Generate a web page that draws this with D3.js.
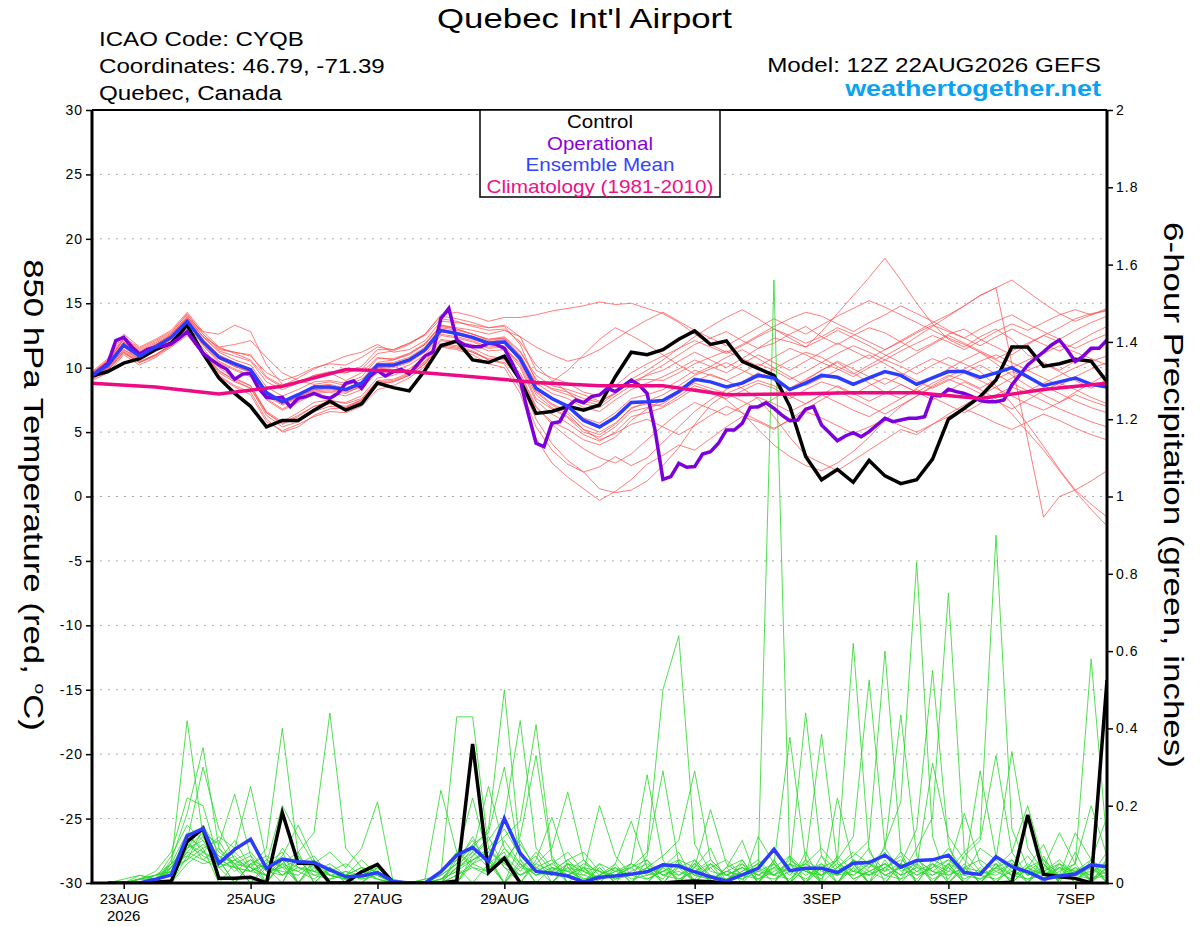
<!DOCTYPE html>
<html>
<head>
<meta charset="utf-8">
<script src="https://cdnjs.cloudflare.com/ajax/libs/d3/7.8.5/d3.min.js"></script>
<style>
  body { margin: 0; background: #fff; }
  svg text { font-family: "Liberation Sans", Arial, sans-serif; }
</style>
</head>
<body>
<div id="chart"></div>
<script>
// ---- data (6-hourly from 22AUG2026 12Z unless noted) ----
const controlTemp = [
  9.35, 9.7, 10.35, 10.7, 11.4,  11.9, 13.3, 11.1, 9.2, 8.0,
  7.0, 5.4, 5.9, 5.9, 6.7,  7.4, 6.7, 7.2, 8.8, 8.45,
  8.2, 9.8, 11.7, 12.07, 10.6,  10.4, 10.9, 9.04, 6.45, 6.6,
  7.0, 6.7, 7.1, 9.3, 11.2,  11.0, 11.4, 12.2, 12.85, 11.8,
  12.07, 10.5, 9.95, 9.4, 7.0,  3.1, 1.3, 2.1, 1.1, 2.8,
  1.6, 1.0, 1.3, 2.9, 6.0,  6.85, 7.75, 9.04, 11.6, 11.6,
  10.1, 10.3, 10.65, 10.5, 8.9
];

// operational run is 3-hourly
const operTemp = [
  9.35, 9.85, 10.34, 12.1, 12.35, 11.63, 11.06, 11.42, 11.6, 11.7,
  11.84, 12.3, 12.79, 11.95, 11.11, 10.65, 10.21, 9.87, 9.1, 9.5,
  9.56, 8.4, 7.7, 7.62, 7.7, 6.97, 7.62, 7.75, 8.0, 7.75,
  7.62, 8.0, 8.78, 8.96, 8.4, 9.3, 9.77, 9.35, 9.69, 9.87,
  9.5, 10.21, 10.9, 11.23, 13.82, 14.6, 12.15, 11.76, 11.63, 11.63,
  11.89, 11.81, 11.5, 10.34, 9.04, 6.46, 4.13, 3.87, 5.68, 5.81,
  6.97, 7.49, 7.28, 7.75, 7.88, 8.4, 8.14, 8.58, 9.04, 8.65,
  8.0, 5.16, 1.33, 1.54, 2.58, 2.27, 2.32, 3.3, 3.48, 4.13,
  5.16, 5.16, 5.68, 6.92, 6.97, 7.28, 6.84, 6.32, 5.88, 5.94,
  6.77, 6.97, 5.55, 4.95, 4.33, 4.7, 4.95, 4.64, 5.03, 5.55,
  6.07, 5.81, 5.94, 6.07, 6.07, 6.2, 7.88, 7.8, 8.32, 8.14,
  8.0, 7.75, 7.44, 7.36, 7.36, 7.49, 8.65, 9.43, 10.21, 10.73,
  11.23, 11.76, 12.15, 11.37, 10.47, 10.9, 11.5, 11.5, 12.15
];

const meanTemp = [
  9.4, 10.2, 11.75, 10.9, 11.6,  12.35, 13.6, 12.0, 10.8, 10.3,
  9.85, 8.05, 7.35, 7.9, 8.5,  8.5, 8.3, 8.8, 10.2, 10.2,
  10.6, 11.4, 12.9, 12.65, 12.35,  11.9, 12.0, 10.7, 8.4, 7.6,
  7.0, 5.9, 5.4, 6.15, 7.3,  7.35, 7.45, 8.15, 9.1, 8.9,
  8.5, 8.8, 9.4, 9.2, 8.3,  8.8, 9.4, 9.25, 8.7, 9.2,
  9.7, 9.4, 8.7, 9.2, 9.7,  9.7, 9.25, 9.6, 10.0, 9.3,
  8.6, 8.9, 9.2, 8.7, 8.5
];

// climatology is daily, at 12Z
const climoTemp = [8.8, 8.5, 7.95, 8.55, 9.85, 9.7, 9.3, 8.85, 8.6, 8.6, 7.9, 7.95, 8.05, 8.05, 7.6, 8.3, 8.8];

const memberTemp = [
  [9.6, 10.6, 12.4, 11.5, 12.1, 12.8, 14.1, 12.6, 11.4, 11.2, 10.9, 9.6, 9.0, 9.4, 10.0, 10.3, 10.2, 10.8, 11.6, 11.4,
   11.9, 12.5, 13.8, 13.6, 13.2, 12.9, 13.0, 12.0, 10.2, 9.0, 8.1, 7.2, 6.9, 7.8, 8.6, 9.5, 10.2, 11.0, 11.8, 12.3,
   12.8, 12.1, 11.5, 11.9, 12.6, 13.2, 12.4, 11.8, 12.5, 13.1, 12.7, 12.0, 11.3, 11.9, 12.6, 13.0, 12.2, 11.6, 11.0, 11.8,
   12.5, 13.1, 13.8, 14.2, 14.4],
  [9.2, 9.9, 11.3, 10.5, 11.0, 11.8, 12.9, 11.2, 9.6, 8.9, 8.4, 6.3, 5.4, 5.8, 6.6, 7.0, 6.9, 7.5, 8.9, 9.0,
   9.5, 10.5, 12.1, 11.9, 11.5, 10.9, 10.7, 8.9, 6.0, 4.1, 2.8, 1.9, 0.6, 0.3, 0.5, 1.2, 2.4, 3.8, 5.6, 7.1,
   8.0, 7.4, 6.8, 7.6, 8.3, 9.0, 9.8, 10.4, 9.6, 8.8, 8.1, 7.6, 8.4, 9.2, 9.9, 10.6, 11.2, 10.3, 9.4, 8.6,
   7.9, 7.3, 8.1, 8.8, 9.5],
  [9.5, 10.4, 12.0, 11.1, 11.7, 12.6, 13.9, 12.8, 12.6, 13.3, 12.8, 10.2, 8.7, 8.9, 9.3, 9.6, 9.0, 9.6, 10.8, 10.6,
   11.0, 11.8, 13.2, 13.0, 12.6, 12.2, 12.3, 11.2, 9.4, 8.6, 8.3, 7.9, 7.4, 8.0, 8.9, 9.4, 9.8, 10.5, 11.2, 10.6,
   10.0, 10.7, 11.5, 12.3, 12.0, 11.6, 12.8, 14.2, 15.6, 17.0, 18.5, 16.8, 15.0, 13.4, 12.2, 11.6, 12.4, 13.0, 12.2, 11.0,
   10.4, 9.8, 10.5, 11.3, 11.9],
  [9.3, 10.0, 11.6, 10.6, 11.4, 12.2, 13.5, 11.8, 10.5, 9.9, 9.4, 7.6, 6.8, 7.4, 8.1, 8.2, 8.0, 8.6, 9.9, 10.0,
   10.4, 11.2, 12.6, 12.4, 12.1, 11.6, 11.7, 10.2, 7.6, 6.8, 6.1, 5.0, 4.6, 5.4, 6.6, 6.9, 7.2, 8.0, 8.8, 8.4,
   8.0, 8.5, 9.0, 8.6, 7.8, 7.2, 7.9, 8.6, 8.0, 7.4, 8.0, 8.7, 8.1, 7.5, 8.2, 8.9, 8.3, 7.6, 6.4, 5.0,
   3.6, 2.0, 0.4, -1.0, -2.3],
  [9.7, 10.7, 12.6, 11.6, 12.2, 12.9, 14.3, 12.8, 11.6, 11.1, 10.6, 9.2, 8.5, 8.9, 9.4, 9.7, 9.6, 10.1, 11.4, 11.4,
   11.9, 12.6, 14.1, 14.3, 14.0, 13.6, 13.9, 13.9, 14.1, 14.4, 14.6, 14.8, 15.1, 14.9, 15.0, 14.6, 14.2, 13.5, 12.6, 11.8,
   11.2, 11.8, 12.5, 13.2, 13.8, 14.3, 14.0, 13.4, 12.8, 13.5, 14.1, 14.8, 14.2, 13.6, 12.9, 12.3, 13.0, 13.6, 14.1, 13.4,
   12.8, 12.2, 12.9, 13.5, 14.0],
  [9.1, 9.8, 11.1, 10.4, 10.9, 11.7, 12.6, 11.0, 9.4, 8.6, 8.1, 6.0, 5.0, 5.4, 6.3, 6.8, 6.9, 7.4, 8.8, 8.9,
   9.4, 10.3, 11.8, 11.6, 11.2, 10.6, 10.4, 9.4, 6.9, 5.8, 5.2, 4.4, 4.0, 4.6, 5.9, 6.8, 7.5, 8.2, 8.9, 9.5,
   9.0, 8.4, 7.6, 6.2, 4.6, 3.2, 2.6, 2.0, 2.8, 3.6, 4.4, 5.2, 4.8, 5.6, 6.4, 7.1, 7.8, 8.5, 9.2, 9.8,
   10.3, 9.7, 9.0, 8.4, 9.1],
  [9.4, 10.3, 11.9, 11.0, 11.5, 12.3, 13.7, 12.1, 10.9, 10.4, 9.9, 8.1, 7.3, 7.8, 8.4, 8.6, 8.2, 8.7, 10.1, 10.1,
   10.5, 11.3, 12.8, 12.6, 12.3, 11.8, 11.9, 10.6, 8.2, 7.2, 6.6, 5.5, 5.0, 5.7, 6.8, 7.4, 7.9, 8.6, 9.4, 9.9,
   10.4, 9.8, 9.2, 9.9, 10.6, 11.2, 10.8, 10.1, 9.5, 10.2, 10.9, 11.6, 12.4, 13.2, 14.0, 14.8, 15.6, 16.2, 10.3, 4.4,
   -1.6, 0.0, 0.5, -0.6, -1.6],
  [9.0, 9.6, 11.0, 10.2, 10.8, 11.6, 12.5, 11.0, 9.3, 8.5, 7.9, 5.8, 5.1, 5.6, 6.2, 6.6, 6.5, 7.0, 8.3, 8.6,
   9.2, 10.1, 11.6, 11.4, 11.0, 10.3, 10.0, 8.0, 4.5, 2.6, 1.5, 0.6, -0.3, 0.4, 1.3, 2.5, 3.2, 4.0, 3.6, 4.5,
   5.4, 6.2, 5.8, 5.2, 6.0, 6.8, 7.5, 8.2, 7.6, 7.0, 6.4, 7.1, 7.8, 8.5, 9.1, 8.6, 8.0, 7.4, 6.8, 7.5,
   8.2, 8.8, 8.3, 7.7, 7.2],
  [9.5, 10.1, 11.8, 10.8, 11.8, 12.5, 13.6, 12.0, 10.7, 10.1, 9.6, 7.8, 7.1, 7.6, 8.2, 8.3, 8.1, 8.5, 10.0, 10.1,
   10.6, 11.4, 12.9, 12.7, 12.4, 12.0, 12.2, 11.0, 8.8, 8.0, 7.6, 6.9, 6.6, 7.5, 8.3, 8.8, 9.3, 9.9, 10.6, 10.1,
   9.6, 10.3, 11.0, 10.4, 9.8, 10.5, 11.2, 11.9, 11.3, 10.7, 11.4, 12.1, 12.8, 13.5, 14.1, 14.8, 15.6, 16.2, 16.8, 15.9,
   15.0, 14.2, 13.6, 14.1, 14.5],
  [9.2, 10.0, 11.4, 10.6, 11.3, 12.1, 13.3, 11.7, 10.4, 9.8, 9.3, 7.5, 6.7, 7.3, 8.0, 8.1, 7.8, 8.3, 9.7, 9.8,
   10.2, 11.0, 12.5, 12.3, 12.0, 11.5, 11.6, 10.0, 7.4, 6.4, 5.7, 4.8, 4.3, 5.0, 6.2, 6.5, 6.9, 7.6, 8.4, 8.0,
   7.6, 8.2, 8.8, 8.4, 7.6, 8.3, 8.9, 8.5, 7.9, 8.6, 9.2, 8.7, 8.1, 8.8, 9.4, 9.0, 8.4, 9.1, 9.7, 9.2,
   8.6, 8.0, 7.4, 6.9, 6.5],
  [9.6, 10.5, 12.3, 11.4, 12.0, 12.7, 14.2, 12.6, 11.5, 11.2, 11.0, 9.3, 8.6, 9.2, 9.9, 10.4, 10.9, 11.2, 11.8, 11.2,
   11.4, 12.1, 13.6, 13.5, 13.3, 13.1, 13.3, 12.4, 9.8, 9.2, 8.8, 8.1, 7.8, 8.6, 9.6, 10.3, 10.9, 11.5, 12.1, 11.6,
   11.1, 11.7, 12.4, 13.0, 12.5, 11.9, 12.4, 13.1, 12.6, 12.0, 11.4, 12.0, 12.7, 13.3, 12.8, 12.3, 11.7, 12.4, 13.0, 12.4,
   11.8, 11.3, 11.9, 12.6, 13.2],
  [9.3, 10.2, 11.7, 10.9, 11.6, 12.3, 13.6, 12.0, 10.8, 10.2, 9.7, 7.9, 7.2, 7.7, 8.3, 8.4, 8.2, 8.6, 10.1, 10.2,
   10.6, 11.4, 12.8, 12.6, 12.2, 11.8, 11.9, 10.5, 8.1, 7.1, 6.4, 5.2, 4.4, 4.9, 5.6, 6.0, 5.4, 4.8, 5.5, 6.3,
   7.0, 6.5, 5.9, 5.3, 5.9, 6.6, 6.1, 5.5, 4.9, 5.4, 6.0, 5.5, 5.0, 5.6, 6.2, 6.8, 6.3, 5.7, 5.2, 5.8,
   6.4, 5.9, 5.3, 4.8, 4.4],
  [9.4, 10.3, 11.9, 11.1, 11.7, 12.5, 13.8, 12.4, 11.6, 11.8, 12.1, 10.8, 9.6, 9.0, 8.7, 8.9, 8.6, 9.1, 10.4, 10.6,
   11.1, 11.9, 13.3, 13.0, 12.6, 12.1, 12.3, 10.9, 8.7, 8.9, 9.8, 11.0, 12.2, 13.1, 12.5, 11.8, 11.0, 10.2, 9.5, 10.1,
   10.8, 11.4, 10.7, 10.0, 9.3, 8.6, 9.2, 9.8, 10.4, 11.0, 10.3, 9.6, 9.0, 8.4, 9.0, 9.6, 10.2, 9.5, 8.8, 8.2,
   8.8, 9.4, 10.0, 10.5, 10.9],
  [9.3, 10.0, 11.4, 10.7, 11.3, 12.0, 13.0, 11.5, 10.0, 9.2, 8.6, 6.5, 5.6, 6.2, 7.0, 7.4, 7.3, 7.8, 9.2, 9.4,
   9.9, 10.8, 12.2, 12.0, 11.8, 11.3, 11.4, 10.4, 7.9, 6.9, 6.2, 5.2, 4.8, 5.6, 6.9, 7.2, 7.0, 7.8, 8.6, 8.2,
   7.5, 6.5, 5.2, 4.0, 3.1, 2.4, 2.0, 2.6, 3.5, 4.6, 5.9, 7.0, 7.8, 8.6, 9.3, 9.9, 10.5, 11.0, 10.4, 9.8,
   9.2, 8.6, 9.3, 9.9, 10.4],
  [9.5, 10.3, 12.0, 11.1, 11.7, 12.4, 13.8, 12.2, 11.0, 10.4, 9.9, 8.2, 7.4, 7.9, 8.6, 8.7, 8.4, 8.9, 10.3, 10.4,
   10.8, 11.6, 13.1, 12.9, 12.6, 12.2, 12.4, 11.3, 9.1, 8.3, 7.9, 7.4, 7.1, 8.0, 9.1, 9.8, 10.6, 11.5, 12.4, 13.2,
   13.9, 14.5, 13.8, 13.0, 12.3, 11.6, 12.2, 12.9, 12.3, 11.7, 11.0, 10.4, 11.1, 11.8, 12.5, 11.9, 11.3, 10.7, 11.3, 11.9,
   12.5, 12.0, 11.5, 12.1, 12.6],
  [9.2, 9.9, 11.2, 10.4, 11.0, 11.8, 12.8, 11.3, 9.8, 9.0, 8.4, 6.5, 5.7, 6.3, 7.0, 7.2, 7.0, 7.5, 8.7, 8.9,
   9.4, 10.3, 11.7, 11.5, 11.2, 10.7, 10.6, 9.6, 7.0, 5.6, 4.6, 3.7, 3.0, 2.6, 3.3, 4.4, 5.5, 6.5, 7.3, 6.8,
   6.3, 7.0, 7.7, 7.2, 6.6, 7.2, 7.9, 7.3, 6.7, 6.2, 6.9, 7.6, 8.3, 7.7, 7.1, 6.5, 7.2, 7.9, 8.5, 8.0,
   7.4, 6.8, 6.3, 5.8, 5.4],
  [9.4, 10.4, 12.2, 11.2, 11.8, 12.5, 13.9, 12.4, 11.3, 10.9, 10.5, 8.9, 8.3, 8.8, 9.4, 9.6, 9.6, 9.9, 11.1, 11.3,
   11.8, 12.6, 14.0, 13.8, 13.5, 13.1, 13.2, 11.8, 8.9, 8.4, 8.1, 7.6, 7.3, 8.1, 9.0, 9.1, 9.0, 9.6, 10.3, 10.8,
   11.3, 10.7, 10.1, 10.8, 11.5, 11.0, 10.4, 11.1, 11.7, 11.2, 10.6, 11.3, 11.9, 12.5, 12.0, 11.4, 12.1, 12.8, 13.4, 12.9,
   13.5, 14.1, 14.5, 14.1, 14.6],
  [9.1, 9.8, 11.2, 10.4, 11.0, 11.7, 12.7, 11.2, 9.7, 9.1, 8.6, 6.6, 5.8, 6.5, 7.3, 7.5, 7.2, 7.6, 9.0, 9.1,
   9.6, 10.4, 11.9, 11.7, 11.3, 10.6, 10.3, 8.4, 5.4, 3.6, 2.5, 1.9, 2.3, 3.1, 2.4, 3.0, 4.2, 5.4, 6.6, 7.5,
   8.3, 8.9, 9.6, 9.0, 8.4, 9.1, 9.8, 10.5, 9.9, 9.3, 8.7, 9.4, 10.1, 10.7, 10.2, 9.6, 9.0, 8.4, 7.8, 7.2,
   6.7, 7.3, 7.9, 7.4, 7.0],
  [9.4, 10.1, 11.7, 10.9, 11.5, 12.3, 13.5, 11.9, 10.7, 10.1, 9.7, 7.9, 7.2, 7.7, 8.3, 8.4, 8.2, 8.7, 10.0, 10.1,
   10.5, 11.3, 12.8, 12.6, 12.3, 11.9, 12.0, 10.7, 8.5, 7.6, 7.0, 6.1, 5.7, 6.5, 7.6, 7.9, 8.3, 9.0, 9.8, 9.4,
   9.0, 9.6, 10.3, 9.8, 9.1, 9.7, 10.4, 9.9, 9.3, 10.0, 10.6, 10.1, 9.5, 10.2, 10.8, 10.3, 9.7, 8.6, 7.2, 5.6,
   3.9, 2.1, 0.5, 1.2, 2.0],
  [9.6, 10.5, 12.2, 11.3, 11.9, 12.6, 14.0, 12.4, 11.2, 10.6, 10.2, 8.5, 7.8, 8.3, 8.9, 9.0, 8.8, 9.3, 10.7, 10.7,
   11.1, 11.8, 13.3, 13.1, 12.9, 12.6, 12.9, 12.4, 11.6, 11.0, 10.5, 10.8, 11.4, 12.2, 13.0, 13.7, 14.3, 13.6, 12.9, 12.3,
   11.7, 12.4, 13.1, 13.8, 13.2, 12.6, 13.3, 14.0, 14.6, 15.2, 14.7, 14.1, 13.5, 12.9, 12.3, 11.8, 11.2, 10.6, 10.0, 10.6,
   11.1, 11.7, 11.2, 10.7, 10.2]
];

// 6-hour precipitation, first value ends 22AUG 18Z
const controlPrecip = [
  0, 0, 0, 0.002, 0.005, 0.107, 0.141, 0.012,
  0.012, 0.015, 0, 0.182, 0.051, 0.051, 0, 0,
  0.029, 0.048, 0, 0, 0, 0, 0.005, 0.36,
  0.027, 0.064, 0, 0, 0, 0, 0, 0,
  0, 0, 0, 0, 0.003, 0.005, 0.003, 0,
  0, 0, 0, 0, 0, 0, 0, 0,
  0, 0, 0, 0, 0, 0, 0, 0,
  0, 0.002, 0.176, 0.023, 0.016, 0.012, 0, 0.525
];

const meanPrecip = [
  0, 0, 0, 0.0095, 0.021, 0.122, 0.141, 0.051,
  0.087, 0.113, 0.038, 0.062, 0.055, 0.053, 0.034, 0.016,
  0.018, 0.027, 0.004, 0, 0, 0.029, 0.072, 0.092,
  0.055, 0.167, 0.077, 0.03, 0.025, 0.018, 0.003, 0.015,
  0.018, 0.023, 0.029, 0.047, 0.044, 0.029, 0.016, 0.005,
  0.021, 0.038, 0.087, 0.032, 0.038, 0.038, 0.027, 0.051,
  0.053, 0.072, 0.041, 0.058, 0.060, 0.072, 0.027, 0.022,
  0.068, 0.042, 0.029, 0.010, 0.018, 0.023, 0.047, 0.042
];

const memberPrecip = [
  [0, 0, 0, 0, 0.05, 0.42, 0.12, 0.04, 0, 0.05, 0, 0, 0.08, 0, 0, 0,
   0, 0, 0, 0, 0, 0, 0.06, 0.11, 0.05, 0.08, 0, 0.06, 0.17, 0.04, 0, 0,
   0.05, 0, 0, 0.04, 0.08, 0, 0, 0, 0.05, 0, 0, 0.07, 0, 0.04, 0, 0.06,
   0, 0.10, 0.21, 0.83, 0.12, 0, 0.05, 0, 0.04, 0, 0, 0.07, 0, 0, 0.05, 0],
  [0, 0, 0, 0, 0.06, 0.18, 0.35, 0.09, 0.05, 0, 0, 0.06, 0, 0, 0, 0,
   0, 0, 0, 0, 0, 0, 0, 0.07, 0.12, 0.04, 0, 0.05, 0.09, 0.235, 0.06, 0,
   0, 0, 0.06, 0, 0, 0.04, 0.09, 0, 0, 0, 0.05, 0, 0.08, 0, 0, 0.04,
   0.09, 0, 0.05, 0.14, 0.55, 0.10, 0, 0, 0, 0.06, 0, 0, 0.04, 0, 0.06, 0],
  [0, 0.01, 0.02, 0.01, 0.03, 0.11, 0.30, 0.14, 0.06, 0.08, 0.03, 0.02, 0.05, 0.07, 0.02, 0.01,
   0, 0.03, 0.01, 0, 0, 0, 0.02, 0.05, 0.09, 0.14, 0.07, 0.03, 0.05, 0.08, 0.03, 0.20,
   0.07, 0.02, 0.01, 0.03, 0.02, 0.05, 0.02, 0.01, 0.03, 0.06, 0.02, 0.01, 0.05, 0.09, 0.04, 0.02,
   0.05, 0.03, 0.08, 0.04, 0.31, 0.12, 0.06, 0.02, 0.01, 0.03, 0.07, 0.02, 0.01, 0.04, 0.02, 0.08],
  [0, 0, 0.01, 0.03, 0.08, 0.22, 0.20, 0.06, 0.11, 0.04, 0.02, 0.09, 0.04, 0.03, 0.01, 0.02,
   0.06, 0.02, 0, 0, 0, 0.03, 0.08, 0.04, 0.02, 0.11, 0.05, 0.02, 0.04, 0.03, 0.06, 0.02,
   0.05, 0.16, 0.04, 0.02, 0.01, 0.03, 0.06, 0.02, 0.01, 0.04, 0.02, 0.06, 0.03, 0.01, 0.07, 0.03,
   0.02, 0.05, 0.02, 0.09, 0.17, 0.75, 0.08, 0.03, 0.05, 0.02, 0.01, 0.03, 0.06, 0.02, 0.01, 0.04],
  [0, 0, 0, 0, 0.04, 0.09, 0.13, 0.10, 0.23, 0.07, 0, 0.05, 0, 0.06, 0, 0,
   0, 0.04, 0, 0, 0, 0, 0.04, 0.09, 0.06, 0, 0.10, 0.04, 0, 0.05, 0, 0,
   0, 0.05, 0.28, 0.06, 0, 0, 0.04, 0, 0.06, 0, 0, 0.05, 0, 0.07, 0, 0,
   0.04, 0.08, 0, 0, 0.06, 0.04, 0.18, 0.05, 0, 0, 0.04, 0.06, 0, 0.08, 0, 0],
  [0, 0, 0.01, 0.01, 0.05, 0.13, 0.08, 0.12, 0.09, 0.25, 0.06, 0.04, 0.03, 0.01, 0.04, 0.02,
   0.01, 0.05, 0, 0, 0.01, 0.02, 0.05, 0.12, 0.04, 0.07, 0.03, 0.08, 0.03, 0.02, 0.04, 0.01,
   0.03, 0.02, 0.07, 0.29, 0.05, 0.02, 0.01, 0.03, 0.02, 0.05, 0.08, 0.03, 0.01, 0.04, 0.02, 0.06,
   0.03, 0.01, 0.05, 0.02, 0.04, 0.09, 0.03, 0.29, 0.07, 0.03, 0.01, 0.02, 0.05, 0.03, 0.01, 0.02],
  [0, 0, 0, 0.01, 0.02, 0.10, 0.07, 0.05, 0.08, 0.04, 0.09, 0.40, 0.07, 0.03, 0.02, 0.01,
   0.03, 0.01, 0, 0, 0, 0.01, 0.03, 0.06, 0.08, 0.05, 0.02, 0.04, 0.06, 0.03, 0.02, 0.05,
   0.03, 0.04, 0.08, 0.50, 0.64, 0.10, 0.03, 0.02, 0.01, 0.03, 0.02, 0.05, 0.03, 0.02, 0.06, 0.01,
   0.03, 0.05, 0.02, 0.04, 0.01, 0.03, 0.08, 0.12, 0.90, 0.14, 0.04, 0.02, 0.01, 0.03, 0.05, 0.02],
  [0, 0, 0.02, 0.01, 0.07, 0.15, 0.11, 0.04, 0.06, 0.03, 0.05, 0.20, 0.12, 0.05, 0.02, 0.03,
   0.01, 0.02, 0, 0, 0, 0, 0.02, 0.04, 0.03, 0.09, 0.05, 0.02, 0.03, 0.06, 0.08, 0.03,
   0.01, 0.02, 0.04, 0.07, 0.11, 0.29, 0.06, 0.02, 0.04, 0.02, 0.01, 0.03, 0.05, 0.02, 0.04, 0.08,
   0.05, 0.02, 0.01, 0.06, 0.03, 0.01, 0.07, 0.11, 0.33, 0.08, 0.02, 0.05, 0.01, 0.03, 0.02, 0.06],
  [0, 0, 0.01, 0.02, 0.03, 0.08, 0.06, 0.09, 0.04, 0.06, 0.02, 0.05, 0.08, 0.13, 0.44, 0.09,
   0.04, 0.02, 0, 0, 0, 0.01, 0.05, 0.08, 0.04, 0.06, 0.11, 0.03, 0.02, 0.04, 0.03, 0.01,
   0.02, 0.05, 0.03, 0.01, 0.06, 0.04, 0.19, 0.05, 0.02, 0.01, 0.04, 0.07, 0.03, 0.05, 0.02, 0.03,
   0.06, 0.02, 0.04, 0.01, 0.05, 0.03, 0.02, 0.09, 0.06, 0.34, 0.09, 0.03, 0.02, 0.04, 0.01, 0.03],
  [0, 0, 0, 0, 0.04, 0.12, 0.09, 0, 0.05, 0, 0.04, 0.07, 0.15, 0.06, 0, 0,
   0, 0, 0, 0, 0, 0, 0, 0.05, 0.07, 0, 0.06, 0, 0.04, 0, 0, 0.04,
   0, 0, 0, 0.05, 0, 0.06, 0, 0.04, 0.11, 0, 0.06, 0, 0.04, 0, 0, 0.05,
   0, 0.04, 0.07, 0, 0, 0.05, 0, 0, 0.04, 0.08, 0.20, 0.05, 0, 0, 0, 0],
  [0, 0, 0, 0, 0.05, 0.07, 0.10, 0.06, 0, 0.05, 0.07, 0.04, 0, 0.05, 0.08, 0.04,
   0.09, 0.21, 0, 0, 0, 0, 0.04, 0, 0.05, 0, 0.04, 0.07, 0, 0.05, 0.04, 0,
   0.04, 0, 0, 0, 0.04, 0, 0.05, 0, 0, 0.12, 0.05, 0, 0.06, 0, 0, 0.04,
   0, 0.06, 0, 0.05, 0, 0, 0.04, 0, 0.05, 0, 0, 0.04, 0.13, 0.05, 0, 0.04],
  [0, 0, 0.01, 0.02, 0.03, 0.06, 0.14, 0.05, 0.04, 0.03, 0.02, 0.06, 0.04, 0.02, 0.01, 0.03,
   0.02, 0.04, 0, 0, 0.01, 0.24, 0.08, 0.05, 0.03, 0.06, 0.02, 0.04, 0.02, 0.05, 0.01, 0.02,
   0.04, 0.01, 0.02, 0.03, 0.05, 0.02, 0.01, 0.03, 0.02, 0.04, 1.56, 0.06, 0.03, 0.02, 0.05, 0.01,
   0.03, 0.05, 0.02, 0.04, 0.03, 0.06, 0.02, 0.01, 0.03, 0.05, 0.02, 0.04, 0.02, 0.13, 0.06, 0.03],
  [0, 0, 0, 0.01, 0.04, 0.10, 0.08, 0.05, 0.07, 0.03, 0.05, 0.02, 0.06, 0.04, 0.02, 0.01,
   0.02, 0.03, 0, 0, 0, 0.02, 0.43, 0.43, 0.09, 0.04, 0.02, 0.05, 0.03, 0.06, 0.02, 0.01,
   0.02, 0.04, 0.06, 0.02, 0.03, 0.01, 0.05, 0.02, 0.04, 0.02, 0.05, 0.377, 0.06, 0.03, 0.02, 0.05,
   0.02, 0.04, 0.06, 0.03, 0.02, 0.05, 0.03, 0.01, 0.04, 0.02, 0.03, 0.06, 0.02, 0.05, 0.58, 0.10],
  [0, 0, 0.01, 0.01, 0.02, 0.08, 0.12, 0.07, 0.03, 0.06, 0.04, 0.03, 0.02, 0.05, 0.03, 0.02,
   0.04, 0.01, 0, 0, 0, 0.03, 0.06, 0.09, 0.14, 0.50, 0.08, 0.03, 0.05, 0.02, 0.04, 0.03,
   0.01, 0.03, 0.05, 0.02, 0.04, 0.06, 0.02, 0.01, 0.03, 0.05, 0.02, 0.04, 0.44, 0.07, 0.03, 0.02,
   0.05, 0.02, 0.04, 0.06, 0.03, 0.02, 0.04, 0.03, 0.06, 0.02, 0.04, 0.01, 0.03, 0.05, 0.20, 0.07],
  [0, 0, 0, 0.02, 0.05, 0.09, 0.15, 0.08, 0.05, 0.07, 0.03, 0.04, 0.06, 0.02, 0.03, 0.05,
   0.02, 0.01, 0, 0, 0, 0.01, 0.04, 0.07, 0.11, 0.17, 0.42, 0.09, 0.04, 0.02, 0.05, 0.03,
   0.02, 0.04, 0.01, 0.03, 0.05, 0.02, 0.04, 0.06, 0.02, 0.03, 0.05, 0.02, 0.06, 0.385, 0.05, 0.03,
   0.02, 0.04, 0.01, 0.03, 0.05, 0.02, 0.04, 0.06, 0.03, 0.01, 0.05, 0.02, 0.04, 0.03, 0.06, 0.17],
  [0, 0, 0, 0, 0, 0.07, 0.05, 0.06, 0.04, 0, 0.05, 0.08, 0, 0, 0.04, 0,
   0, 0, 0, 0, 0, 0, 0, 0.06, 0.08, 0.12, 0.16, 0.41, 0.07, 0, 0, 0.04,
   0, 0, 0.04, 0, 0, 0.05, 0, 0.04, 0, 0, 0.06, 0, 0.04, 0, 0.22, 0.05,
   0, 0, 0.05, 0, 0, 0.04, 0, 0, 0.05, 0, 0.04, 0.10, 0, 0, 0.04, 0],
  [0, 0, 0, 0.01, 0.03, 0.11, 0.06, 0.04, 0.06, 0.04, 0.02, 0.05, 0.03, 0.06, 0.02, 0.01,
   0.03, 0.02, 0, 0, 0, 0.02, 0.05, 0.10, 0.13, 0.30, 0.06, 0.02, 0.04, 0.03, 0.01, 0.02,
   0.04, 0.02, 0.03, 0.05, 0.02, 0.04, 0.01, 0.03, 0.05, 0.02, 0.04, 0.03, 0.05, 0.02, 0.06, 0.62,
   0.08, 0.03, 0.05, 0.02, 0.04, 0.06, 0.03, 0.02, 0.04, 0.06, 0.02, 0.03, 0.05, 0.02, 0.04, 0.01],
  [0, 0, 0.01, 0.02, 0.04, 0.06, 0.09, 0.11, 0.04, 0.03, 0.06, 0.02, 0.04, 0.03, 0.05, 0.02,
   0.04, 0.03, 0, 0, 0, 0.01, 0.03, 0.08, 0.25, 0.09, 0.04, 0.03, 0.02, 0.05, 0.03, 0.01,
   0.03, 0.05, 0.02, 0.04, 0.01, 0.03, 0.05, 0.02, 0.04, 0.01, 0.03, 0.05, 0.02, 0.04, 0.06, 0.12,
   0.525, 0.09, 0.03, 0.05, 0.02, 0.04, 0.01, 0.03, 0.02, 0.05, 0.03, 0.01, 0.04, 0.02, 0.03, 0.05],
  [0, 0, 0, 0, 0, 0.05, 0.08, 0.06, 0, 0.05, 0.04, 0, 0.07, 0, 0.04, 0,
   0, 0.04, 0, 0, 0, 0, 0.07, 0.22, 0.06, 0, 0.05, 0, 0, 0.04, 0, 0.05,
   0, 0, 0, 0.04, 0.06, 0, 0, 0, 0, 0.04, 0, 0.05, 0, 0, 0.04, 0.07,
   0.11, 0.60, 0.08, 0, 0.05, 0, 0.04, 0, 0, 0, 0.04, 0, 0.05, 0, 0, 0.04],
  [0, 0, 0, 0, 0, 0.09, 0.11, 0.07, 0.05, 0.04, 0, 0.06, 0, 0.04, 0, 0,
   0, 0, 0, 0, 0, 0, 0.04, 0.06, 0.09, 0.05, 0.12, 0.33, 0.06, 0, 0.04, 0,
   0, 0, 0.04, 0, 0.05, 0, 0, 0.04, 0.06, 0, 0.04, 0, 0, 0.05, 0, 0.06,
   0.04, 0.09, 0.435, 0.07, 0, 0.05, 0, 0.04, 0, 0.04, 0, 0.05, 0, 0, 0, 0.06]
];

const tempTicks = [-30, -25, -20, -15, -10, -5, 0, 5, 10, 15, 20, 25, 30];
const precipTicks = [0, 0.2, 0.4, 0.6, 0.8, 1, 1.2, 1.4, 1.6, 1.8, 2];
const dateTicks = ["2026-08-23", "2026-08-25", "2026-08-27", "2026-08-29", "2026-09-01", "2026-09-03", "2026-09-05", "2026-09-07"];

const legendItems = [
  { label: "Control", color: "#000000", len: 66 },
  { label: "Operational", color: "#8a00dd", len: 106 },
  { label: "Ensemble Mean", color: "#3344ff", len: 149 },
  { label: "Climatology (1981-2010)", color: "#ee1188", len: 227 }
];

// ---- layout ----
const width = 1200, height = 927,
      margin = ({ top: 110, right: 93, bottom: 44, left: 92 });

const svg = d3.select("#chart")
  .append("svg")
  .attr("width", width)
  .attr("height", height)
  .attr("viewBox", [0, 0, width, height]);

const runStart = Date.UTC(2026, 7, 22, 12);
const HOUR = 3600e3;
const parseDay = d3.utcParse("%Y-%m-%d");

const x = d3.scaleUtc()
  .domain([new Date(runStart), new Date(Date.UTC(2026, 8, 7, 12))])
  .range([margin.left, width - margin.right]);

const yT = d3.scaleLinear()
  .domain([-30, 30])
  .range([height - margin.bottom, margin.top]);

const yP = d3.scaleLinear()
  .domain([0, 2])
  .range([height - margin.bottom, margin.top]);

// pair each value with its valid time
const timed = (step, offset = 0) => (v, i) => [new Date(runStart + (i + offset) * step * HOUR), v];

const lineT = d3.line().x(d => x(d[0])).y(d => yT(d[1]));
const lineP = d3.line().x(d => x(d[0])).y(d => yP(d[1]));

// stretch a text node horizontally to a measured width
function fit(sel, px, py, target, rot = 0) {
  const w = sel.node().getComputedTextLength();
  sel.attr("x", 0).attr("y", 0)
    .attr("transform", `translate(${px},${py}) rotate(${rot}) scale(${target / w},1)`);
  return sel;
}

// grid
svg.append("g")
  .selectAll("line")
  .data(tempTicks.filter(t => t > -30 && t < 30))
  .join("line")
  .attr("x1", margin.left)
  .attr("x2", width - margin.right)
  .attr("y1", d => yT(d))
  .attr("y2", d => yT(d))
  .attr("stroke", "#aaaaaa")
  .attr("stroke-width", 1)
  .attr("stroke-dasharray", "2,6");

svg.append("clipPath").attr("id", "plot")
  .append("rect")
  .attr("x", margin.left).attr("y", margin.top)
  .attr("width", width - margin.left - margin.right)
  .attr("height", height - margin.top - margin.bottom);

const plot = svg.append("g").attr("clip-path", "url(#plot)");

// ensemble members
plot.append("g")
  .selectAll("path")
  .data(memberTemp)
  .join("path")
  .attr("d", d => lineT(d.map(timed(6))))
  .attr("fill", "none")
  .attr("stroke", "#ff4a4a")
  .attr("stroke-opacity", 0.8)
  .attr("stroke-width", 0.9);

plot.append("g")
  .selectAll("path")
  .data(memberPrecip)
  .join("path")
  .attr("d", d => lineP(d.map(timed(6, 1))))
  .attr("fill", "none")
  .attr("stroke", "#2ad62a")
  .attr("stroke-opacity", 0.9)
  .attr("stroke-width", 0.9);

// thick lines
const thick = [
  { d: lineP(controlPrecip.map(timed(6, 1))), color: "#000000" },
  { d: lineP(meanPrecip.map(timed(6, 1))), color: "#2b3cff" },
  { d: lineT(controlTemp.map(timed(6))), color: "#000000" },
  { d: lineT(operTemp.map(timed(3))), color: "#7d00dc" },
  { d: lineT(meanTemp.map(timed(6))), color: "#2b3cff" },
  { d: lineT(climoTemp.map(timed(24))), color: "#ee0a82" }
];

plot.append("g")
  .selectAll("path")
  .data(thick)
  .join("path")
  .attr("d", d => d.d)
  .attr("fill", "none")
  .attr("stroke", d => d.color)
  .attr("stroke-width", 3.5)
  .attr("stroke-linejoin", "miter");

// axes
const fontFam = "'Liberation Sans', Arial, sans-serif";

svg.append("g")
  .attr("transform", `translate(${margin.left},0)`)
  .call(d3.axisLeft(yT).tickValues(tempTicks).tickSize(6).tickPadding(3).tickFormat(d => String(d)))
  .call(g => g.select(".domain").remove())
  .call(g => g.selectAll(".tick line").attr("stroke-width", 1.5))
  .call(g => g.selectAll("text").attr("font-size", 14).attr("font-family", fontFam).attr("letter-spacing", "1px").attr("fill", "#000"));

svg.append("g")
  .attr("transform", `translate(${width - margin.right},0)`)
  .call(d3.axisRight(yP).tickValues(precipTicks).tickSize(6).tickPadding(3).tickFormat(d => String(+d.toFixed(1))))
  .call(g => g.select(".domain").remove())
  .call(g => g.selectAll(".tick line").attr("stroke-width", 1.5))
  .call(g => g.selectAll("text").attr("font-size", 14).attr("font-family", fontFam).attr("letter-spacing", "1px").attr("fill", "#000"));

const dayFmt = d3.utcFormat("%-d%b");
svg.append("g")
  .attr("transform", `translate(0,${height - margin.bottom})`)
  .call(d3.axisBottom(x).tickValues(dateTicks.map(parseDay)).tickSize(6).tickPadding(4).tickFormat(d => dayFmt(d).toUpperCase()))
  .call(g => g.select(".domain").remove())
  .call(g => g.selectAll(".tick line").attr("stroke-width", 1.5))
  .call(g => g.selectAll("text").attr("font-size", 15).attr("font-family", fontFam).attr("fill", "#000"));

svg.append("text")
  .attr("x", x(parseDay(dateTicks[0])))
  .attr("y", 921)
  .attr("text-anchor", "middle")
  .attr("font-size", 15)
  .text("2026");

// frame
const L = margin.left, R = width - margin.right, T = margin.top, B = height - margin.bottom;
[[L, T, L, B, 3], [R, T, R, B, 3], [L - 1.5, B, R + 1.5, B, 3], [L, T, R, T, 2]].forEach(([x1, y1, x2, y2, w]) => {
  svg.append("line").attr("x1", x1).attr("y1", y1).attr("x2", x2).attr("y2", y2)
    .attr("stroke", "#000").attr("stroke-width", w);
});

// axis titles
const leftTitle = svg.append("text").attr("text-anchor", "middle").attr("font-size", 27);
leftTitle.append("tspan").text("850 hPa Temperature (red, ");
leftTitle.append("tspan").attr("font-size", 15).attr("dy", -11).text("o");
leftTitle.append("tspan").attr("dy", 11).text("C)");
fit(leftTitle, 24, 495, 472, 90);

const rightTitle = svg.append("text").attr("text-anchor", "middle").attr("font-size", 27)
  .text("6-hour Precipitation (green, inches)");
fit(rightTitle, 1164, 495, 546, 90);

// header
fit(svg.append("text").attr("font-size", 28).text("Quebec Int'l Airport"), 437, 28, 295);
fit(svg.append("text").attr("font-size", 20).text("ICAO Code: CYQB"), 99, 46, 205);
fit(svg.append("text").attr("font-size", 20).text("Coordinates: 46.79, -71.39"), 99, 73, 286);
fit(svg.append("text").attr("font-size", 20).text("Quebec, Canada"), 99, 100, 183);
fit(svg.append("text").attr("font-size", 20).attr("text-anchor", "end").text("Model: 12Z 22AUG2026 GEFS"), 1101, 72, 334);
fit(svg.append("text").attr("font-size", 22).attr("font-weight", "bold").attr("text-anchor", "end")
  .attr("fill", "#0ca2f2").text("weathertogether.net"), 1101, 96, 256);

// legend
svg.append("rect")
  .attr("x", 480).attr("y", 110)
  .attr("width", 240).attr("height", 87)
  .attr("fill", "#fff")
  .attr("stroke", "#000")
  .attr("stroke-width", 1.5);

legendItems.forEach((d, i) => {
  const t = svg.append("text")
    .attr("text-anchor", "middle")
    .attr("font-size", 18)
    .attr("fill", d.color)
    .text(d.label);
  fit(t, 600, 128 + i * 21.5, d.len);
});
</script>
</body>
</html>
